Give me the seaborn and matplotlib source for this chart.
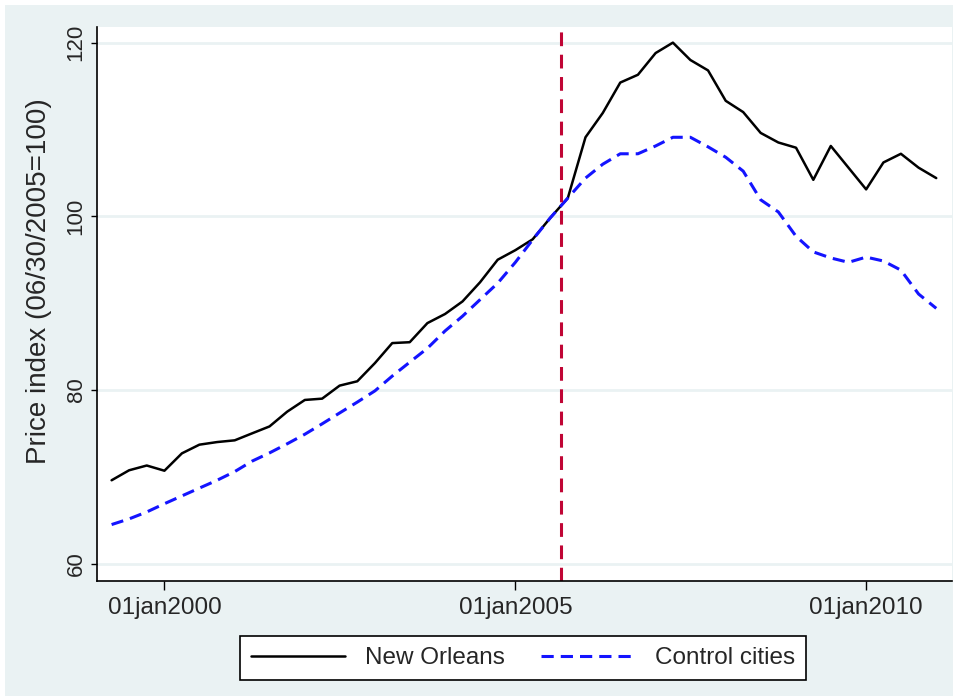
import pandas as pd
import matplotlib.pyplot as plt
from matplotlib.patches import Rectangle
import seaborn as sns

# quarterly house price index, 06/30/2005 = 100
quarters = pd.date_range('1999-04-01', '2011-01-01', freq='QS')
new_orleans = [69.6, 70.75, 71.3, 70.7, 72.7, 73.7, 74.0, 74.2, 75.0, 75.8,
               77.5, 78.85, 79.0, 80.5, 81.0, 83.1, 85.4, 85.5, 87.7, 88.75,
               90.2, 92.4, 95.0, 96.1, 97.35, 99.8, 102.1, 109.1, 111.9, 115.4,
               116.3, 118.8, 120.0, 118.0, 116.8, 113.3, 112.0, 109.6, 108.5, 107.9,
               104.2, 108.1, 105.6, 103.1, 106.2, 107.2, 105.6, 104.4]
control = [64.5, 65.15, 65.95, 66.9, 67.8, 68.7, 69.6, 70.6, 71.8, 72.75,
           73.8, 74.9, 76.1, 77.35, 78.6, 79.9, 81.6, 83.2, 84.8, 86.8,
           88.5, 90.4, 92.3, 94.7, 97.3, 99.8, 102.1, 104.4, 106.0, 107.2,
           107.2, 108.1, 109.1, 109.1, 108.0, 106.8, 105.2, 101.9, 100.5, 97.7,
           95.9, 95.2, 94.7, 95.3, 94.85, 93.8, 91.05, 89.4]
katrina = pd.Timestamp('2005-08-29')
x_ticks = pd.to_datetime(['2000-01-01', '2005-01-01', '2010-01-01'])
x_labels = ['01jan2000', '01jan2005', '01jan2010']
y_ticks = [60, 80, 100, 120]

sns.set_style('white')
plt.rcParams['font.family'] = ['Liberation Sans', 'DejaVu Sans']

fig = plt.figure(figsize=(9.54, 7.0), dpi=100)
fig.patch.set_facecolor('white')
# Stata-like graph region
fig.add_artist(Rectangle((5/954, 4/700), 1, 691/700, transform=fig.transFigure,
                         facecolor='#EAF2F3', edgecolor='none', zorder=-1))
ax = fig.add_axes([97/954, 1 - 581/700, 855/954, 554/700])
ax.set_facecolor('white')

sns.lineplot(x=quarters, y=new_orleans, color='black', lw=1.8, ax=ax, label='New Orleans')
sns.lineplot(x=quarters, y=control, color='#1414FF', lw=2.2, ls=(0, (4, 2.3)), ax=ax,
             label='Control cities')
ax.axvline(katrina, color='#C00535', lw=2.2, ls=(0, (4.5, 2.8)))

ax.set_xlim(pd.Timestamp('1999-01-15'), pd.Timestamp('2011-03-24'))
ax.set_ylim(58.0, 121.8)
ax.set_xticks(x_ticks)
ax.set_xticklabels(x_labels, fontsize=17.5)
ax.set_yticks(y_ticks)
ax.set_yticklabels([str(v) for v in y_ticks], fontsize=16, rotation=90, va='center')
ax.tick_params(axis='x', bottom=True, length=6.5, width=1, direction='out', pad=5,
               color='black')
ax.tick_params(axis='y', left=True, length=4.5, width=1, direction='out', pad=3,
               color='black')
ax.set_xlabel('')
ax.set_ylabel('Price index (06/30/2005=100)', fontsize=20)
ax.yaxis.set_label_coords(-0.053, 0.541)

ax.yaxis.grid(True, color='#EAF2F3', lw=2)
ax.set_axisbelow(True)
for side in ['top', 'right']:
    ax.spines[side].set_visible(False)
for side in ['left', 'bottom']:
    ax.spines[side].set_color('black')
    ax.spines[side].set_linewidth(1.2)

handles, labels = ax.get_legend_handles_labels()
ax.get_legend().remove()
leg = fig.legend(handles, labels, loc='center', bbox_to_anchor=(523/954, 1 - 658/700),
                 ncol=2, fontsize=17.5, frameon=True, fancybox=False, framealpha=1,
                 edgecolor='black', handlelength=3.9, columnspacing=1.5,
                 borderpad=0.45, handletextpad=0.8)
leg.get_frame().set_linewidth(1.2)

fig.savefig('out.png', dpi=100)
